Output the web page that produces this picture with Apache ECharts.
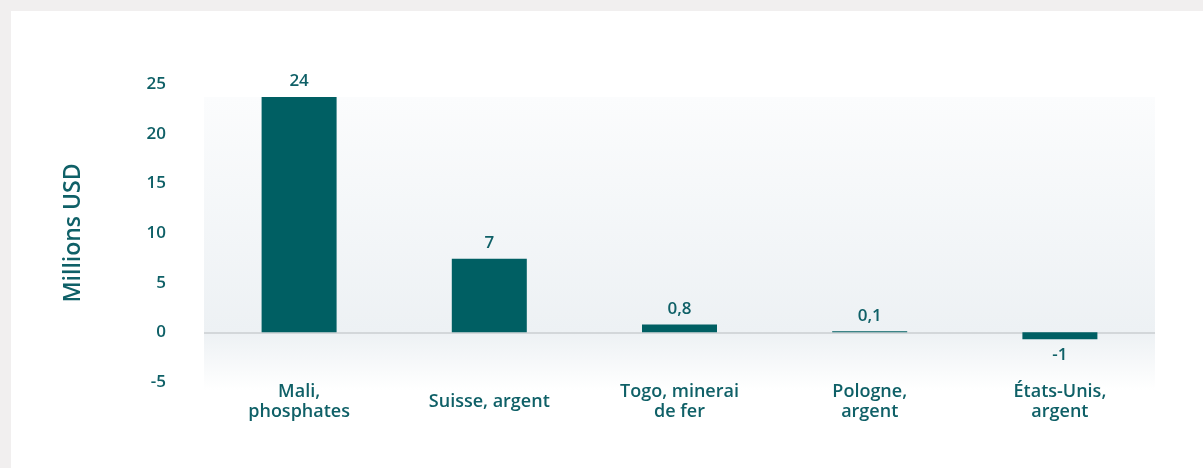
<!DOCTYPE html>
<html>
<head>
<meta charset="utf-8">
<script src="https://cdn.jsdelivr.net/npm/echarts@6/dist/echarts.min.js"></script>
<style>
  html, body { margin: 0; padding: 0; background: #f1efef; width: 1203px; height: 468px; overflow: hidden; }
  #chart { position: absolute; left: 11px; top: 11px; width: 1192px; height: 457px; background: #ffffff; }
</style>
</head>
<body>
<div id="chart"></div>
<script>
const categories = ["Mali,\nphosphates", "Suisse, argent", "Togo, minerai\nde fer", "Pologne,\nargent", "États-Unis,\nargent"];
const values = [23.7, 7.4, 0.8, 0.1, -0.7];
const valueLabels = ["24", "7", "0,8", "0,1", "-1"];
const yTicks = [-5, 0, 5, 10, 15, 20, 25];

const textColor = "#0f6067";
const barColor = "#005f63";
const font = "'Open Sans', 'Noto Sans', sans-serif";

const chart = echarts.init(document.getElementById('chart'));

const option = {
  animation: false,
  grid: { left: 193, right: 48, top: 73, bottom: 86 },
  xAxis: {
    type: 'category',
    data: categories,
    axisLine: { show: false },
    axisTick: { show: false },
    axisLabel: {
      color: textColor, fontFamily: font, fontSize: 18, fontWeight: 600,
      lineHeight: 20, verticalAlign: 'middle', margin: 20, interval: 0
    }
  },
  yAxis: {
    type: 'value',
    min: yTicks[0], max: yTicks[yTicks.length - 1], interval: 5,
    name: 'Millions USD',
    nameLocation: 'middle',
    nameRotate: 90,
    nameGap: 119,
    nameTextStyle: { color: textColor, fontFamily: font, fontSize: 23, fontWeight: 600 },
    axisLine: { show: false },
    axisTick: { show: false },
    splitLine: { show: false },
    axisLabel: { color: textColor, fontFamily: font, fontSize: 17, fontWeight: 600, margin: 38 }
  },
  series: [{
    type: 'bar',
    barWidth: 75,
    z: 3,
    data: values.map((v, i) => ({
      value: v,
      label: {
        show: true,
        position: v < 0 ? 'bottom' : 'top',
        distance: 7,
        formatter: valueLabels[i],
        color: textColor, fontFamily: font, fontSize: 17, fontWeight: 600
      }
    })),
    itemStyle: { color: barColor },
    markLine: {
      silent: true,
      symbol: ['none', 'none'],
      label: { show: false },
      lineStyle: { color: '#d3d7da', width: 2, type: 'solid' },
      data: [{ yAxis: 0 }],
      z: 2
    }
  }]
};
chart.setOption(option);

// background gradient panel behind the plot (from the highest bar down a little below the axis)
function drawBg() {
  const maxV = Math.max.apply(null, values);
  const yTop = chart.convertToPixel({ yAxisIndex: 0 }, maxV);
  const yZero = chart.convertToPixel({ yAxisIndex: 0 }, 0);
  const yBottom = chart.convertToPixel({ yAxisIndex: 0 }, yTicks[0]) + 8;
  const left = option.grid.left;
  const right = chart.getWidth() - option.grid.right;
  const zeroStop = (yZero - yTop) / (yBottom - yTop);
  chart.setOption({
    graphic: [{
      type: 'rect', z: -10, silent: true,
      shape: { x: left, y: yTop, width: right - left, height: yBottom - yTop },
      style: {
        fill: new echarts.graphic.LinearGradient(0, 0, 0, 1, [
          { offset: 0, color: '#fbfcfd' },
          { offset: zeroStop, color: '#edf1f4' },
          { offset: 1, color: '#ffffff' }
        ])
      }
    }]
  });
}
drawBg();
</script>
</body>
</html>
